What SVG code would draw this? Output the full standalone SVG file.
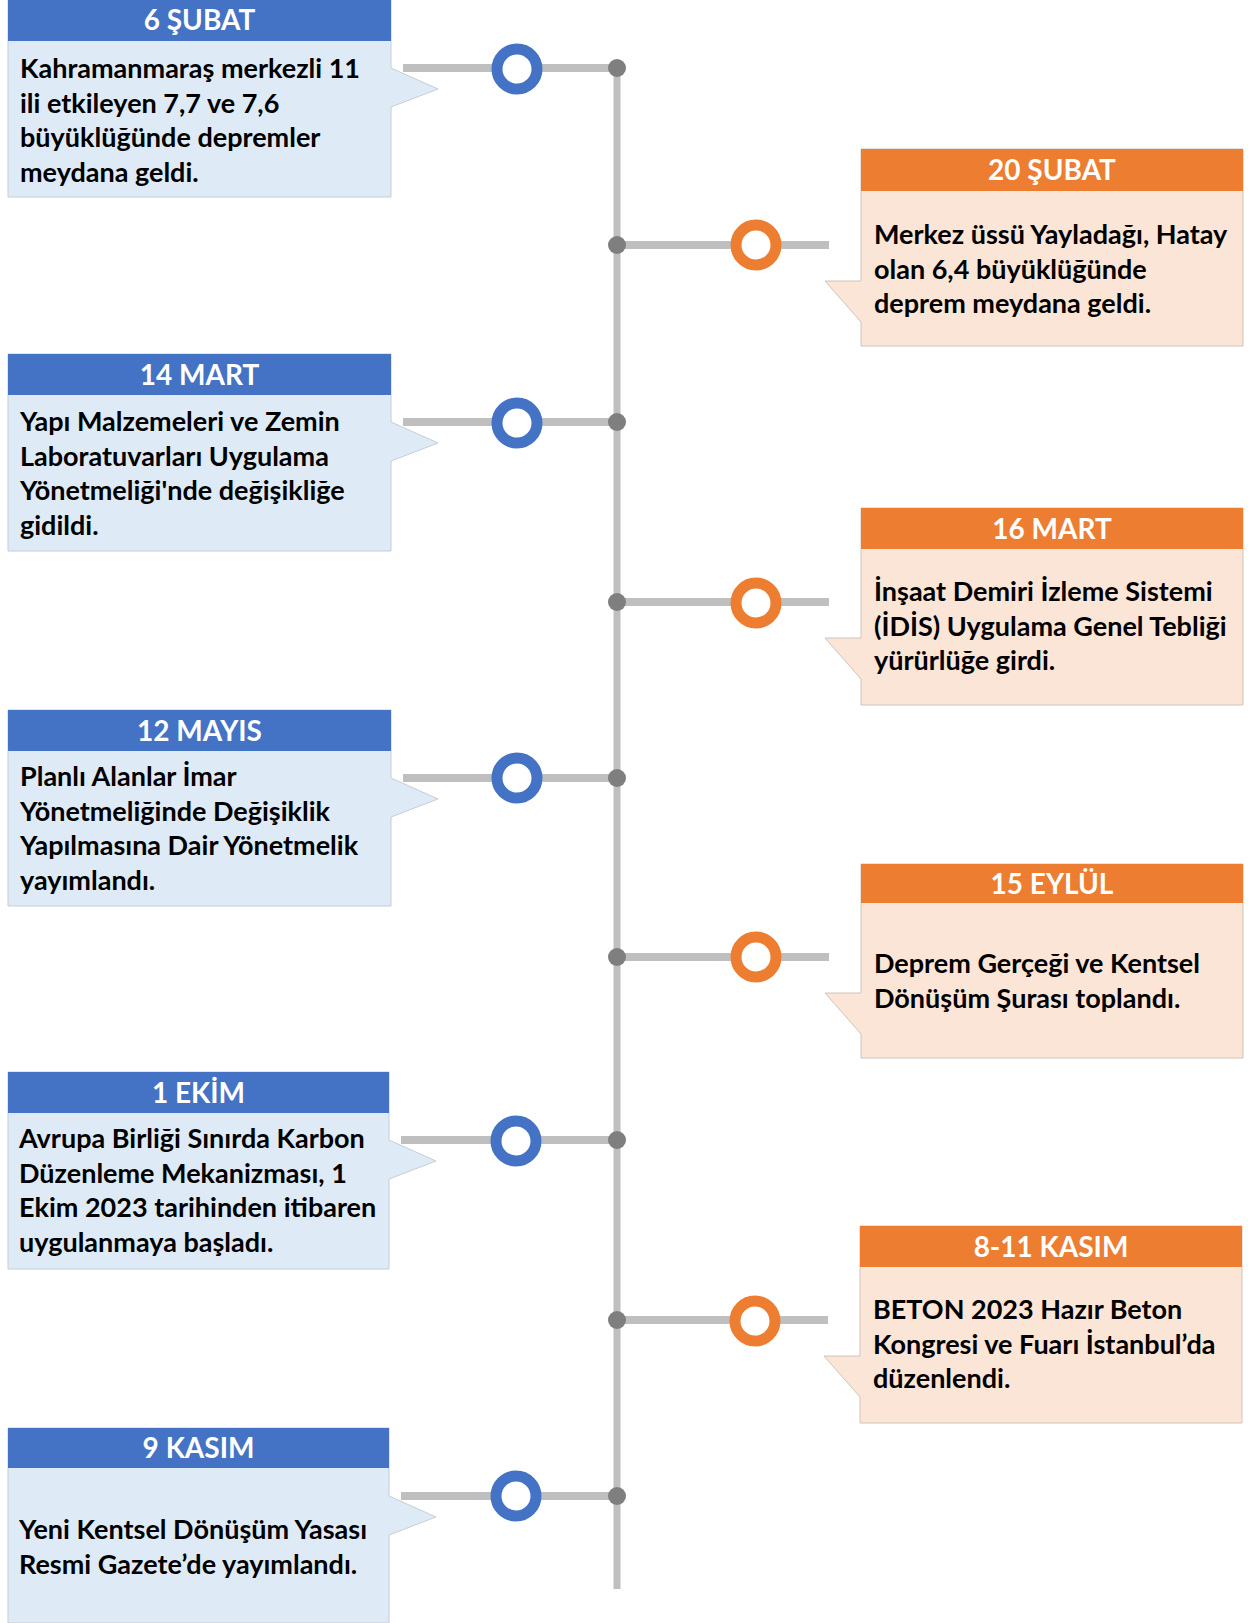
<svg xmlns="http://www.w3.org/2000/svg" width="1248" height="1623" viewBox="0 0 1248 1623">
<style>
.bl{fill:#DEEBF7;stroke:#C5CDD6;stroke-width:1}
.or{fill:#FBE5D6;stroke:#CFC4BC;stroke-width:1}
.hb{fill:#4472C4}
.ho{fill:#ED7D31}
.ht{font-family:Lato,"Open Sans","Liberation Sans",sans-serif;font-weight:bold;font-size:28px;fill:#FFFFFF;text-anchor:middle}
.bt{font-family:Lato,"Open Sans","Liberation Sans",sans-serif;font-weight:bold;font-size:27px;fill:#000000}
.hl{stroke:#BFBFBF;stroke-width:8;fill:none}
.vl{stroke:#BFBFBF;stroke-width:7;fill:none}
.dot{fill:#7F7F7F}
.rb{fill:#FFFFFF;stroke:#4472C4;stroke-width:11}
.ro{fill:#FFFFFF;stroke:#ED7D31;stroke-width:11}
</style>
<rect width="1248" height="1623" fill="#FFFFFF"/>
<g id="connectors">
<line class="vl" x1="617" y1="68" x2="617" y2="1589"/>
<line class="hl" x1="403" y1="68" x2="617" y2="68"/>
<line class="hl" x1="617" y1="245" x2="829" y2="245"/>
<line class="hl" x1="403" y1="422" x2="617" y2="422"/>
<line class="hl" x1="617" y1="602" x2="829" y2="602"/>
<line class="hl" x1="403" y1="778" x2="617" y2="778"/>
<line class="hl" x1="617" y1="957" x2="829" y2="957"/>
<line class="hl" x1="401" y1="1140" x2="617" y2="1140"/>
<line class="hl" x1="617" y1="1320" x2="828" y2="1320"/>
<line class="hl" x1="401" y1="1496" x2="617" y2="1496"/>
<circle class="dot" cx="617" cy="68" r="9"/>
<circle class="dot" cx="617" cy="245" r="9"/>
<circle class="dot" cx="617" cy="422" r="9"/>
<circle class="dot" cx="617" cy="602" r="9"/>
<circle class="dot" cx="617" cy="778" r="9"/>
<circle class="dot" cx="617" cy="957" r="9"/>
<circle class="dot" cx="617" cy="1140" r="9"/>
<circle class="dot" cx="617" cy="1320" r="9"/>
<circle class="dot" cx="617" cy="1496" r="9"/>
<circle class="rb" cx="517" cy="69" r="20"/>
<circle class="ro" cx="756" cy="245" r="20"/>
<circle class="rb" cx="517" cy="423" r="20"/>
<circle class="ro" cx="756" cy="603" r="20"/>
<circle class="rb" cx="517" cy="778" r="20"/>
<circle class="ro" cx="756" cy="957" r="20"/>
<circle class="rb" cx="516" cy="1141" r="20"/>
<circle class="ro" cx="755" cy="1321" r="20"/>
<circle class="rb" cx="516" cy="1496" r="20"/>
</g>
<g id="n-6subat">
<path class="bl" d="M8,0 H391 V68 L438,89 L391,107 V197 H8 Z"/>
<rect class="hb" x="8" y="0" width="383" height="41"/>
<text class="ht" x="199.5" y="30">6 ŞUBAT</text>
<text class="bt"><tspan x="20" y="78">Kahramanmaraş merkezli 11</tspan><tspan x="20" y="112.5">ili etkileyen 7,7 ve 7,6</tspan><tspan x="20" y="147">büyüklüğünde depremler</tspan><tspan x="20" y="181.5">meydana geldi.</tspan></text>
</g>
<g id="n-20subat">
<path class="or" d="M861,149 H1243 V346 H861 V322 L825,281 L861,281 Z"/>
<rect class="ho" x="861" y="149" width="382" height="42"/>
<text class="ht" x="1052" y="180">20 ŞUBAT</text>
<text class="bt"><tspan x="874" y="244">Merkez üssü Yayladağı, Hatay</tspan><tspan x="874" y="278.5">olan 6,4 büyüklüğünde</tspan><tspan x="874" y="313">deprem meydana geldi.</tspan></text>
</g>
<g id="n-14mart">
<path class="bl" d="M8,354 H391 V422 L438,443 L391,461 V551 H8 Z"/>
<rect class="hb" x="8" y="354" width="383" height="41"/>
<text class="ht" x="199.5" y="385">14 MART</text>
<text class="bt"><tspan x="20" y="431">Yapı Malzemeleri ve Zemin</tspan><tspan x="20" y="465.5">Laboratuvarları Uygulama</tspan><tspan x="20" y="500">Yönetmeliği'nde değişikliğe</tspan><tspan x="20" y="534.5">gidildi.</tspan></text>
</g>
<g id="n-16mart">
<path class="or" d="M861,508 H1243 V705 H861 V679 L825,638 L861,638 Z"/>
<rect class="ho" x="861" y="508" width="382" height="41"/>
<text class="ht" x="1052" y="539">16 MART</text>
<text class="bt"><tspan x="874" y="601">İnşaat Demiri İzleme Sistemi</tspan><tspan x="874" y="635.5">(İDİS) Uygulama Genel Tebliği</tspan><tspan x="874" y="670">yürürlüğe girdi.</tspan></text>
</g>
<g id="n-12mayis">
<path class="bl" d="M8,710 H391 V778 L438,799 L391,817 V906 H8 Z"/>
<rect class="hb" x="8" y="710" width="383" height="41"/>
<text class="ht" x="199.5" y="741">12 MAYIS</text>
<text class="bt"><tspan x="20" y="786">Planlı Alanlar İmar</tspan><tspan x="20" y="820.5">Yönetmeliğinde Değişiklik</tspan><tspan x="20" y="855">Yapılmasına Dair Yönetmelik</tspan><tspan x="20" y="889.5">yayımlandı.</tspan></text>
</g>
<g id="n-15eylul">
<path class="or" d="M861,864 H1243 V1058 H861 V1034 L825,993 L861,993 Z"/>
<rect class="ho" x="861" y="864" width="382" height="39"/>
<text class="ht" x="1052" y="894">15 EYLÜL</text>
<text class="bt"><tspan x="874" y="973">Deprem Gerçeği ve Kentsel</tspan><tspan x="874" y="1007.5">Dönüşüm Şurası toplandı.</tspan></text>
</g>
<g id="n-1ekim">
<path class="bl" d="M8,1072 H389 V1140 L436,1161 L389,1179 V1269 H8 Z"/>
<rect class="hb" x="8" y="1072" width="381" height="41"/>
<text class="ht" x="198.5" y="1103">1 EKİM</text>
<text class="bt"><tspan x="19" y="1148">Avrupa Birliği Sınırda Karbon</tspan><tspan x="19" y="1182.5">Düzenleme Mekanizması, 1</tspan><tspan x="19" y="1217">Ekim 2023 tarihinden itibaren</tspan><tspan x="19" y="1251.5">uygulanmaya başladı.</tspan></text>
</g>
<g id="n-811kasim">
<path class="or" d="M860,1226 H1242 V1423 H860 V1397 L824,1356 L860,1356 Z"/>
<rect class="ho" x="860" y="1226" width="382" height="41"/>
<text class="ht" x="1051" y="1257">8-11 KASIM</text>
<text class="bt"><tspan x="873" y="1319">BETON 2023 Hazır Beton</tspan><tspan x="873" y="1353.5">Kongresi ve Fuarı İstanbul’da</tspan><tspan x="873" y="1388">düzenlendi.</tspan></text>
</g>
<g id="n-9kasim">
<path class="bl" d="M8,1428 H389 V1496 L436,1517 L389,1535 V1623 H8 Z"/>
<rect class="hb" x="8" y="1428" width="381" height="40"/>
<text class="ht" x="198.5" y="1458">9 KASIM</text>
<text class="bt"><tspan x="19" y="1539">Yeni Kentsel Dönüşüm Yasası</tspan><tspan x="19" y="1573.5">Resmi Gazete’de yayımlandı.</tspan></text>
</g>
</svg>
